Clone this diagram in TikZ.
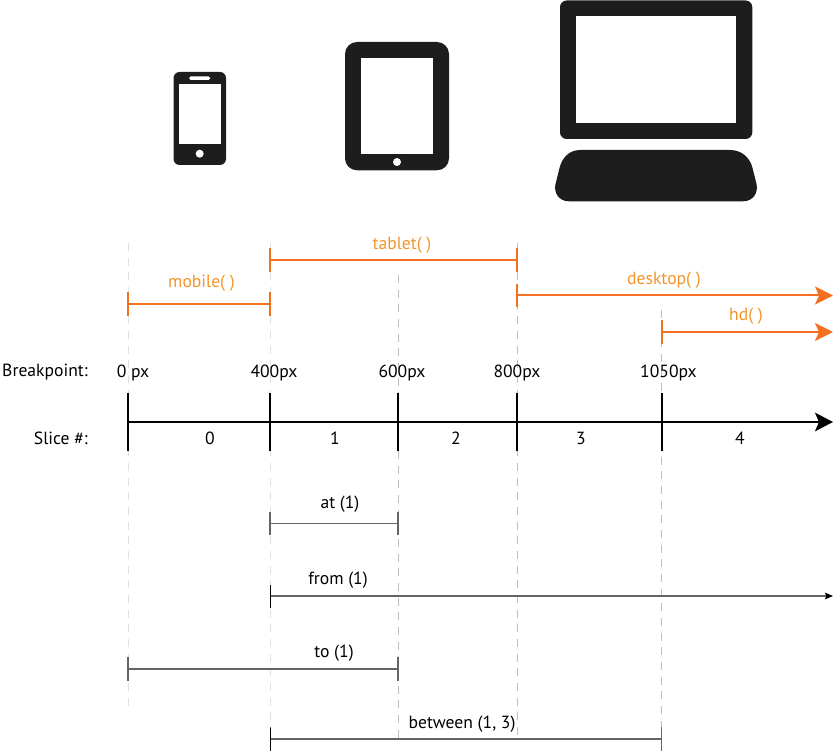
\documentclass[tikz,border=0pt]{standalone}
\usepackage{fontspec}
\setmainfont{PT Sans}
\usetikzlibrary{arrows.meta}
\definecolor{iconblack}{RGB}{29,29,29}
\definecolor{rangeorange}{RGB}{243,112,33}
\definecolor{labelorange}{RGB}{244,148,40}
\definecolor{mixgray}{RGB}{100,100,100}
\tikzset{
  txt/.style={inner sep=0pt,font=\fontsize{13.2pt}{15pt}\selectfont},
  orangetxt/.style={txt,text=labelorange},
  guide/.style={draw=black!25,line width=0.6pt,dash pattern=on 6pt off 5pt},
  guidelight/.style={draw=black!12,line width=0.6pt,dash pattern=on 6pt off 5pt},
  axis/.style={draw=black,line width=1.5pt},
  orangebar/.style={draw=rangeorange,line width=1.5pt,shorten <=-0.75pt,shorten >=-0.75pt,{Bar[width=17.5pt,line width=1.5pt]}-{Bar[width=17.5pt,line width=1.5pt]}},
  orangearrow/.style={draw=rangeorange,line width=1.5pt,shorten <=-0.75pt,{Bar[width=17.5pt,line width=1.5pt]}-{Stealth[length=13.5pt,width=13.5pt,inset=3pt]}},
  mixbar/.style={draw=mixgray,line width=0.9pt,shorten <=-0.45pt,shorten >=-0.45pt,{Bar[width=17.5pt,line width=0.9pt]}-{Bar[width=17.5pt,line width=0.9pt]}},
  mixarrow/.style={draw=mixgray,line width=0.9pt,-{Stealth[length=6pt,width=5pt,inset=1pt,color=black]}},
  mixtick/.style={draw=black,line width=0.7pt}
}
\begin{document}
\begin{tikzpicture}[x=0.75pt,y=0.75pt,yscale=-1,xscale=1]
\useasboundingbox (0,0) rectangle (833,756);

%Shape: Phone
\fill [iconblack,rounded corners=4.5pt] (173.5,72) rectangle (226,165);
\fill [white] (178.7,84) rectangle (221,143.7);
\fill [white,rounded corners=1pt] (189.3,76.5) rectangle (210,80);
\fill [white] (199.7,153.7) circle (4);
%Shape: Tablet
\fill [iconblack,rounded corners=9pt] (345,42) rectangle (449,170.3);
\fill [white] (361,58.3) rectangle (433,154);
\fill [white] (397,162) circle (4);
%Shape: Monitor
\fill [iconblack,rounded corners=5pt] (560,0.5) rectangle (752.3,139);
\fill [white] (576,16.3) rectangle (736,122.7);
%Curve Lines: Keyboard
\fill [iconblack] (580,150) -- (730,150) .. controls (742,150) and (750,158) .. (752.5,168) -- (756.5,184) .. controls (758.5,193) and (753,201.3) .. (743,201.3) -- (569,201.3) .. controls (559,201.3) and (553.5,193) .. (555.5,184) -- (559.5,168) .. controls (562,158) and (569,150) .. (580,150) -- cycle;

%Straight Lines: guides
\draw [guidelight] (128,243) -- (128,710);
\draw [guidelight] (270,243) -- (270,751);
\draw [guide] (398,275) -- (398,740);
\draw [guide] (517,243) -- (517,740);
\draw [guide] (661.5,310) -- (661.5,751);

%Ranges
\coordinate (mobileStart) at (128,304);
\coordinate (mobileEnd) at (270,304);
\coordinate (tabletStart) at (270,260);
\coordinate (tabletEnd) at (517,260);
\coordinate (desktopStart) at (517,295.5);
\coordinate (desktopEnd) at (833,295.5);
\coordinate (hdStart) at (661.5,332);
\coordinate (hdEnd) at (833,332);
\draw [orangebar] (mobileStart) -- (mobileEnd);
\draw [orangebar] (tabletStart) -- (tabletEnd);
\draw [orangearrow] (desktopStart) -- (desktopEnd);
\draw [orangearrow] (hdStart) -- (hdEnd);
\node [orangetxt] (mobileLabel) at (201.5,283) {mobile( )};
\node [orangetxt] (tabletLabel) at (402,245) {tablet( )};
\node [orangetxt] (desktopLabel) at (664,280) {desktop( )};
\node [orangetxt] (hdLabel) at (746,316) {hd( )};

%Axis
\coordinate (axisStart) at (128,422);
\coordinate (axisEnd) at (833,422);
\draw [axis,-{Stealth[length=13.5pt,width=14pt,inset=3pt]}] (axisStart) -- (axisEnd);
\foreach \px in {128,270,398,517,661.5}
  \draw [axis] (\px,393) -- (\px,451);
\node [txt,anchor=east] (breakpointLabel) at (88,372) {Breakpoint:};
\node [txt,anchor=east] (sliceLabel) at (88,438) {Slice \#:};
\node [txt] (bp0) at (133,373) {0 px};
\node [txt] (bp400) at (274,373) {400px};
\node [txt] (bp600) at (402,373) {600px};
\node [txt] (bp800) at (517,373) {800px};
\node [txt] (bp1050) at (668.5,373) {1050px};
\node [txt] (slice0) at (210,438) {0};
\node [txt] (slice1) at (335,438) {1};
\node [txt] (slice2) at (456,438) {2};
\node [txt] (slice3) at (581,438) {3};
\node [txt] (slice4) at (740,438) {4};

%Mixins
\coordinate (atStart) at (270,523.5);
\coordinate (atEnd) at (398,523.5);
\coordinate (fromStart) at (270,596);
\coordinate (fromEnd) at (833,596);
\coordinate (toStart) at (128,669);
\coordinate (toEnd) at (398,669);
\coordinate (betweenStart) at (270.5,739);
\coordinate (betweenEnd) at (661.5,739);
\draw [mixbar] (atStart) -- (atEnd);
\draw [mixarrow] (fromStart) -- (fromEnd);
\draw [mixtick] (270.4,585) -- (270.4,608);
\draw [mixbar] (toStart) -- (toEnd);
\draw [mixbar] (betweenStart) -- (betweenEnd);
\draw [mixtick] (270.4,728) -- (270.4,751);
\node [txt] (atLabel) at (340,504) {at (1)};
\node [txt] (fromLabel) at (338,580) {from (1)};
\node [txt] (toLabel) at (334,653) {to (1)};
\node [txt] (betweenLabel) at (462,724) {between (1, 3)};
\end{tikzpicture}
\end{document}
